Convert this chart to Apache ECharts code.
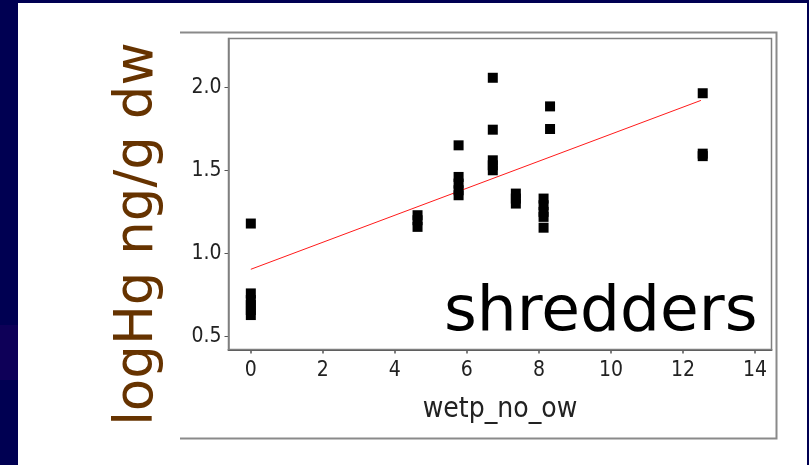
<!DOCTYPE html>
<html>
<head>
<meta charset="utf-8">
<script src="https://cdn.jsdelivr.net/npm/echarts@6/dist/echarts.min.js"></script>
<style>
  html, body { margin: 0; padding: 0; background: #000052; }
  #chart { width: 809px; height: 465px; }
</style>
</head>
<body>
<div id="chart"></div>
<script>
var wetp = [0, 0, 0, 0, 0, 0,
    4.63, 4.63, 4.63,
    5.77, 5.77, 5.77, 5.77, 5.77,
    6.72, 6.72, 6.72, 6.72, 6.72,
    7.36, 7.36, 7.36,
    8.13, 8.13, 8.13, 8.13, 8.13,
    8.31, 8.31,
    12.55, 12.55, 12.55];
var logHg = [1.18, 0.76, 0.72, 0.69, 0.66, 0.63,
    1.23, 1.20, 1.16,
    1.65, 1.46, 1.42, 1.38, 1.35,
    2.056, 1.744, 1.56, 1.53, 1.50,
    1.36, 1.33, 1.30,
    1.33, 1.29, 1.25, 1.22, 1.155,
    1.884, 1.748,
    1.963, 1.60, 1.585];

// fitted line end points
var fitX = [0, 12.5];
var fitY = [0.905, 1.92];

var xTicks = [0, 2, 4, 6, 8, 10, 12, 14];
var yTicks = [0.5, 1.0, 1.5, 2.0];

var points = [];
for (var i = 0; i < wetp.length; i++) {
    points.push([wetp[i], logHg[i]]);
}
var fit = [];
for (var j = 0; j < fitX.length; j++) {
    fit.push([fitX[j], fitY[j]]);
}

var narrow = '"Liberation Sans Narrow", "Arial Narrow", "DejaVu Sans Condensed", sans-serif';

var myChart = echarts.init(document.getElementById('chart'));
var option = {
    animation: false,
    backgroundColor: '#000052',
    grid: {
        left: 228.5,
        top: 38.5,
        right: 37.5,
        bottom: 115.5,
        show: true,
        borderColor: '#7f7f7f',
        borderWidth: 1.5,
        backgroundColor: 'rgba(0,0,0,0)',
        z: 3
    },
    xAxis: {
        type: 'value',
        min: -0.62,
        max: 14.46,
        name: 'wetp_no_ow',
        nameLocation: 'middle',
        nameGap: 46,
        nameTextStyle: {
            fontFamily: narrow,
            fontSize: 28,
            color: '#222'
        },
        axisLine: {
            show: true,
            onZero: false,
            lineStyle: { color: '#555', width: 2 }
        },
        axisTick: {
            show: true,
            length: 4,
            customValues: xTicks,
            lineStyle: { color: '#555', width: 1.5 }
        },
        axisLabel: {
            customValues: xTicks,
            fontFamily: narrow,
            fontSize: 21,
            color: '#222',
            margin: 11
        },
        splitLine: { show: false }
    },
    yAxis: {
        type: 'value',
        min: 0.423,
        max: 2.292,
        axisLine: {
            show: true,
            onZero: false,
            lineStyle: { color: '#7f7f7f', width: 1.5 }
        },
        axisTick: {
            show: true,
            length: 4,
            customValues: yTicks,
            lineStyle: { color: '#555', width: 1 }
        },
        axisLabel: {
            customValues: yTicks,
            fontFamily: narrow,
            fontSize: 21,
            color: '#222',
            margin: 7,
            formatter: function (v) { return v.toFixed(1); }
        },
        splitLine: { show: false }
    },
    graphic: [
        {
            type: 'rect', z: -10, silent: true,
            shape: { x: 0, y: 325, width: 18, height: 55 },
            style: { fill: '#0e0058' }
        },
        {
            type: 'rect', z: -9, silent: true,
            shape: { x: 18, y: 3, width: 789, height: 462 },
            style: { fill: '#ffffff' }
        },
        {
            type: 'polyline', z: -8, silent: true,
            shape: { points: [[180, 32.5], [776.5, 32.5], [776.5, 438.5], [180, 438.5]] },
            style: { stroke: '#8a8a8a', lineWidth: 2, fill: null }
        },
        {
            type: 'text', z: 10, silent: true,
            x: 138, y: 234, rotation: Math.PI / 2,
            style: {
                text: 'logHg ng/g dw',
                fontFamily: '"DejaVu Sans", Verdana, sans-serif',
                fontSize: 53,
                fill: '#663300',
                textAlign: 'center',
                textVerticalAlign: 'middle'
            }
        },
        {
            type: 'text', z: 10, silent: true,
            x: 444, y: 314,
            style: {
                text: 'shredders',
                fontFamily: '"DejaVu Sans", Verdana, sans-serif',
                fontSize: 63,
                fill: '#000000',
                textAlign: 'left',
                textVerticalAlign: 'middle'
            }
        }
    ],
    series: [
        {
            type: 'line',
            data: fit,
            symbol: 'none',
            lineStyle: { color: '#ff1a1a', width: 1 },
            z: 2
        },
        {
            type: 'scatter',
            data: points,
            symbol: 'rect',
            symbolSize: 10,
            itemStyle: { color: '#000000', opacity: 1 },
            z: 3
        }
    ]
};
myChart.setOption(option);
</script>
</body>
</html>
